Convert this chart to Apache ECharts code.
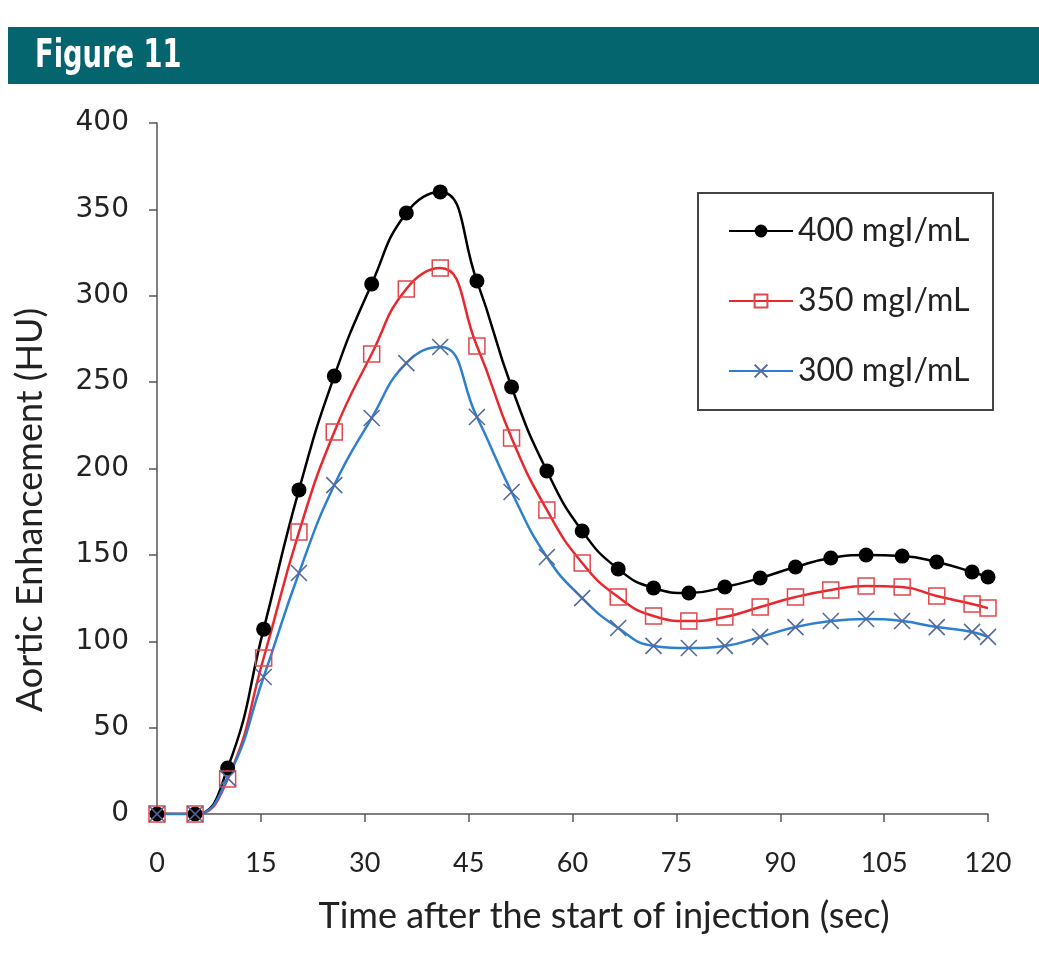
<!DOCTYPE html>
<html>
<head>
<meta charset="utf-8">
<script src="https://cdn.jsdelivr.net/npm/echarts@6/dist/echarts.min.js"></script>
<style>
html,body{margin:0;padding:0;background:#fff;}
#c{width:1039px;height:958px;}
</style>
</head>
<body>
<div id="c"></div>
<script>
const times = [0, 5.5, 10.2, 15.4, 20.5, 25.6, 31.0, 36.0, 40.9, 46.2, 51.2, 56.3, 61.4, 66.6, 71.7, 76.8, 82.0, 87.1, 92.2, 97.3, 102.4, 107.6, 112.6, 117.7, 120];
const enh400 = [0, 0, 26.6, 107, 187.6, 253.5, 306.8, 347.9, 360.1, 308.5, 247.2, 198.6, 163.8, 141.8, 130.8, 127.9, 131.4, 136.6, 143, 148.2, 149.9, 149.3, 145.9, 140.1, 137.2];
const enh350 = [0, 0, 20.3, 90.3, 163.2, 221.1, 266.3, 303.9, 316, 270.9, 217.7, 176, 145.3, 125.6, 114.6, 111.7, 114, 119.8, 125.6, 129.7, 132, 131.4, 126.2, 121.6, 119.2];
const enh300 = [0, 0, 20.8, 79.3, 139.5, 190.4, 229.2, 261, 270.3, 229.8, 186.4, 148.8, 125, 107.7, 97.3, 96.1, 97.3, 102.5, 108.2, 111.7, 112.9, 111.7, 108.2, 105.4, 102.5];
const seriesNames = ['400 mgI/mL', '350 mgI/mL', '300 mgI/mL'];
const xTicks = [0, 15, 30, 45, 60, 75, 90, 105, 120];
const yTicks = [0, 50, 100, 150, 200, 250, 300, 350, 400];
const figureTitle = 'Figure 11';
const xTitle = 'Time after the start of injection (sec)';
const yTitle = 'Aortic Enhancement (HU)';

const pair = arr => times.map((t, i) => [t, arr[i]]);
const chart = echarts.init(document.getElementById('c'));
const labelFont = 'Lato, "Open Sans", sans-serif';

chart.setOption({
  animation: false,
  backgroundColor: '#fff',
  grid: {left: 157, right: 51, top: 123, bottom: 144, containLabel: false},
  xAxis: {
    type: 'value', min: 0, max: 120, interval: 15,
    axisLine: {show: true, onZero: false, lineStyle: {color: '#555', width: 1.5}},
    axisTick: {show: true, inside: false, length: 8, lineStyle: {color: '#555', width: 1.5}},
    axisLabel: {margin: 36, fontSize: 27, color: '#222', fontFamily: labelFont,
      formatter: v => xTicks.includes(v) ? String(v) : ''},
    splitLine: {show: false}
  },
  yAxis: {
    type: 'value', min: 0, max: 400, interval: 50,
    axisLine: {show: true, lineStyle: {color: '#555', width: 1.5}},
    axisTick: {show: true, inside: false, length: 8, lineStyle: {color: '#555', width: 1.5}},
    axisLabel: {margin: 28, fontSize: 28, color: '#222', fontFamily: '"DejaVu Sans", Verdana, sans-serif',
      formatter: v => yTicks.includes(v) ? String(v) : ''},
    splitLine: {show: false}
  },
  legend: {
    data: seriesNames,
    orient: 'vertical',
    left: 728, top: 215,
    itemWidth: 64, itemHeight: 16, itemGap: 38,
    padding: 0,
    textStyle: {fontSize: 32, lineHeight: 32, color: '#222', fontFamily: labelFont}
  },
  graphic: [
    {type: 'rect', shape: {x: 8, y: 27, width: 1031, height: 57}, style: {fill: '#04656f'}, silent: true},
    {type: 'text', x: 35, y: 57, scaleX: 0.7, style: {text: figureTitle, fill: '#fff', font: 'bold 39px "DejaVu Sans", Arial, sans-serif', verticalAlign: 'middle'}},
    {type: 'rect', shape: {x: 698, y: 193, width: 295, height: 217}, style: {fill: 'transparent', stroke: '#444', lineWidth: 2}, z: 5},
    {type: 'text', x: 604, y: 916, style: {text: xTitle, fill: '#222', font: '36px Lato, "Open Sans", sans-serif', align: 'center', verticalAlign: 'middle'}},
    {type: 'text', x: 30, y: 510, rotation: Math.PI / 2, style: {text: yTitle, fill: '#222', font: '36px Lato, "Open Sans", sans-serif', align: 'center', verticalAlign: 'middle'}}
  ],
  series: [
    {
      name: seriesNames[0], type: 'line', smooth: 0.5, data: pair(enh400),
      symbol: 'circle', symbolSize: 15,
      lineStyle: {color: '#000', width: 2.5},
      itemStyle: {color: '#000'}
    },
    {
      name: seriesNames[1], type: 'line', smooth: 0.5, data: pair(enh350),
      symbol: 'rect', symbolSize: 16,
      lineStyle: {color: '#e8282e', width: 2.5},
      itemStyle: {color: 'rgba(0,0,0,0)', borderColor: '#e2474b', borderWidth: 1.5}
    },
    {
      name: seriesNames[2], type: 'line', smooth: 0.5, data: pair(enh300),
      symbol: 'path://M0,0L10,10M10,0L0,10', symbolSize: 16,
      lineStyle: {color: '#2f7fcf', width: 2.5},
      itemStyle: {color: 'rgba(0,0,0,0)', borderColor: '#54699e', borderWidth: 1.6}
    }
  ]
});
</script>
</body>
</html>
